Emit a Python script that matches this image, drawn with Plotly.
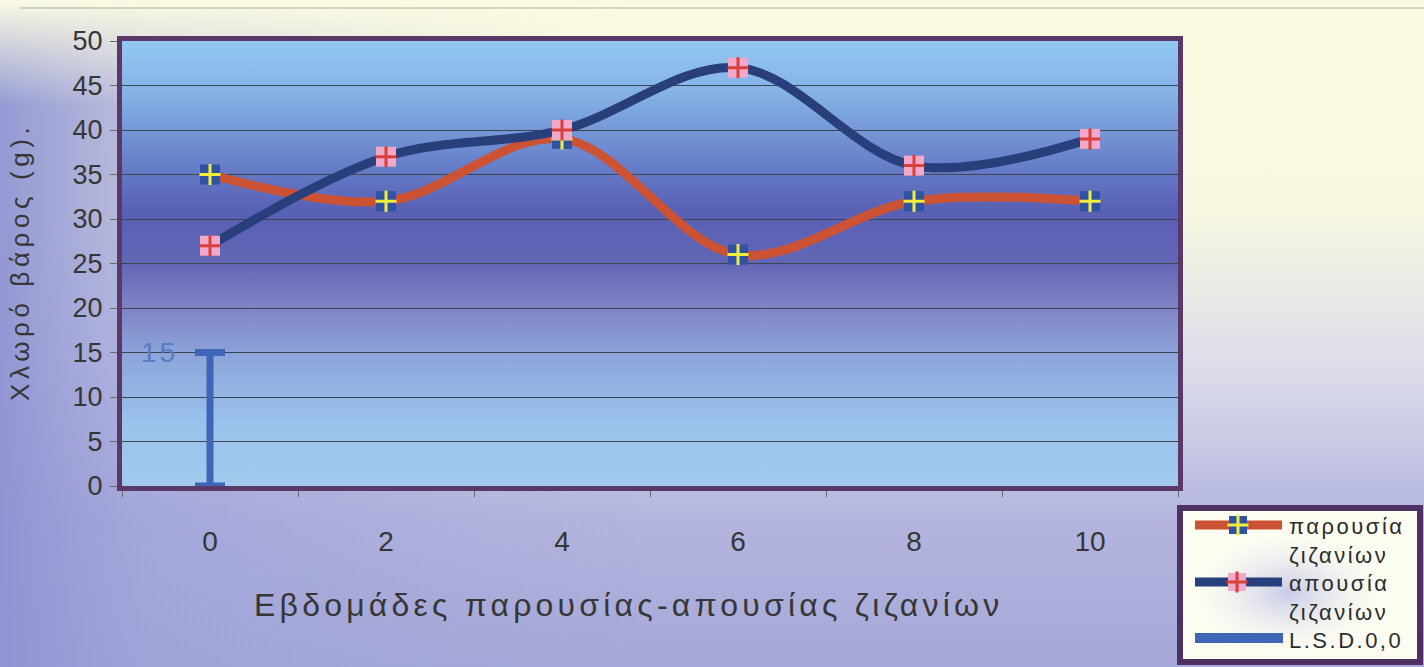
import base64
import plotly.graph_objects as go

# ---- data ----------------------------------------------------------------
weeks = ["0", "2", "4", "6", "8", "10"]
presence = [35, 32, 39, 26, 32, 32]      # παρουσία ζιζανίων
absence = [27, 37, 40, 47, 36, 39]       # απουσία ζιζανίων
lsd_value = 15                            # L.S.D. 0,05
y_ticks = list(range(0, 51, 5))

legend_lines = ["παρουσία", "ζιζανίων", "απουσία", "ζιζανίων", "L.S.D.0,0"]
series_names = ["παρουσία ζιζανίων", "απουσία ζιζανίων", "L.S.D.0,0"]
x_title = "Εβδομάδες παρουσίας-απουσίας ζιζανίων"
y_title = "Χλωρό βάρος (g)."

# ---- geometry ------------------------------------------------------------
W, H = 1424, 667
PLOT_L, PLOT_R, PLOT_T, PLOT_B = 122, 1178, 41, 486
LEG_L, LEG_R, LEG_T, LEG_B = 1180, 1420, 508, 662


def px(x):
    return x / W


def py(y):
    return 1 - y / H


def spaced(text, sp):
    return f'<span style="letter-spacing:{sp}px">{text}</span>'


FONT = "Liberation Sans, Arial, sans-serif"
TXT = "#363636"
ORANGE = "#cc5234"
NAVY = "#283f7c"
LSD_BLUE = "#3f66b6"
FRAME = "#5a3867"


def svg_uri(svg):
    return "data:image/svg+xml;base64," + base64.b64encode(svg.encode()).decode()


paper_svg = f"""<svg xmlns="http://www.w3.org/2000/svg" width="{W}" height="{H}" viewBox="0 0 {W} {H}" preserveAspectRatio="none">
<defs>
<linearGradient id="v" x1="0" y1="0" x2="0" y2="1">
<stop offset="0" stop-color="#fbfbe3"/>
<stop offset="0.32" stop-color="#f7f7e2"/>
<stop offset="0.55" stop-color="#dcdcea"/>
<stop offset="0.78" stop-color="#b3b5de"/>
<stop offset="1" stop-color="#a5a8d8"/>
</linearGradient>
<linearGradient id="h" x1="0" y1="0" x2="1" y2="0">
<stop offset="0" stop-color="#8d93d2" stop-opacity="0.95"/>
<stop offset="0.1" stop-color="#9ca0d8" stop-opacity="0.65"/>
<stop offset="0.45" stop-color="#a6a9d8" stop-opacity="0"/>
</linearGradient>
<linearGradient id="m" x1="0" y1="0" x2="0" y2="1">
<stop offset="0" stop-color="#000"/>
<stop offset="0.16" stop-color="#fff"/>
</linearGradient>
<mask id="mk"><rect width="{W}" height="{H}" fill="url(#m)"/></mask>
</defs>
<rect width="{W}" height="{H}" fill="url(#v)"/>
<rect width="{W}" height="{H}" fill="url(#h)" mask="url(#mk)"/>
</svg>"""

plot_svg = """<svg xmlns="http://www.w3.org/2000/svg" width="1056" height="445" viewBox="0 0 1056 445" preserveAspectRatio="none">
<defs>
<linearGradient id="g" x1="0" y1="0" x2="0" y2="1">
<stop offset="0" stop-color="#92c8f2"/>
<stop offset="0.12" stop-color="#84b2e6"/>
<stop offset="0.26" stop-color="#6a84cc"/>
<stop offset="0.38" stop-color="#5860b4"/>
<stop offset="0.5" stop-color="#6266b6"/>
<stop offset="0.6" stop-color="#8084c6"/>
<stop offset="0.72" stop-color="#8ea8dc"/>
<stop offset="0.86" stop-color="#9ac2ec"/>
<stop offset="1" stop-color="#a2caee"/>
</linearGradient>
</defs>
<rect width="1056" height="445" fill="url(#g)"/>
</svg>"""

legend_svg = """<svg xmlns="http://www.w3.org/2000/svg" width="240" height="154" viewBox="0 0 240 154" preserveAspectRatio="none">
<defs>
<radialGradient id="r" cx="0.45" cy="0.55" r="0.45">
<stop offset="0" stop-color="#b8bce6" stop-opacity="0.8"/>
<stop offset="1" stop-color="#fdfdf0" stop-opacity="0"/>
</radialGradient>
</defs>
<rect width="240" height="154" fill="#fdfdf2"/>
<rect width="240" height="154" fill="url(#r)"/>
</svg>"""

fig = go.Figure()


def add_series(values, line_color, sq_color, cross_color, name):
    fig.add_trace(go.Scatter(
        x=weeks, y=values, mode="lines", name=name, showlegend=False,
        line=dict(color=line_color, width=9, shape="spline", smoothing=1.0),
        hoverinfo="skip"))
    fig.add_trace(go.Scatter(
        x=weeks, y=values, mode="markers", showlegend=False, hoverinfo="skip",
        marker=dict(symbol="square", size=20, color=sq_color, line=dict(width=0))))
    fig.add_trace(go.Scatter(
        x=weeks, y=values, mode="markers", showlegend=False, name=name,
        marker=dict(symbol="cross-thin", size=15, color=cross_color,
                    line=dict(color=cross_color, width=3))))


add_series(presence, ORANGE, "#2f52a4", "#f2ee3c", series_names[0])
add_series(absence, NAVY, "#f2a8c8", "#d8403e", series_names[1])

# LSD bar drawn as an error bar from 0 up to the LSD value at week 0
fig.add_trace(go.Scatter(
    x=[weeks[0]], y=[0], mode="markers", name=series_names[2], showlegend=False,
    cliponaxis=False,
    marker=dict(symbol="circle", size=9, color=LSD_BLUE),
    error_y=dict(type="data", symmetric=False, array=[lsd_value], arrayminus=[0],
                 color=LSD_BLUE, thickness=7, width=15)))

# ---- legend glyphs on a small auxiliary axis pair ----------------------
leg_rows = [525, 582, 638]
fig.add_trace(go.Scatter(x=[1195, 1282], y=[leg_rows[0]] * 2, mode="lines", xaxis="x2", yaxis="y2",
                         showlegend=False, hoverinfo="skip", line=dict(color=ORANGE, width=9)))
fig.add_trace(go.Scatter(x=[1238], y=[leg_rows[0]], mode="markers", xaxis="x2", yaxis="y2",
                         showlegend=False, hoverinfo="skip",
                         marker=dict(symbol="square", size=18, color="#2f52a4")))
fig.add_trace(go.Scatter(x=[1238], y=[leg_rows[0]], mode="markers", xaxis="x2", yaxis="y2",
                         showlegend=False, hoverinfo="skip",
                         marker=dict(symbol="cross-thin", size=15, line=dict(color="#f2ee3c", width=3))))
fig.add_trace(go.Scatter(x=[1195, 1282], y=[leg_rows[1]] * 2, mode="lines", xaxis="x2", yaxis="y2",
                         showlegend=False, hoverinfo="skip", line=dict(color=NAVY, width=9)))
fig.add_trace(go.Scatter(x=[1237], y=[leg_rows[1]], mode="markers", xaxis="x2", yaxis="y2",
                         showlegend=False, hoverinfo="skip",
                         marker=dict(symbol="square", size=18, color="#f2a8c8")))
fig.add_trace(go.Scatter(x=[1237], y=[leg_rows[1]], mode="markers", xaxis="x2", yaxis="y2",
                         showlegend=False, hoverinfo="skip",
                         marker=dict(symbol="cross-thin", size=15, line=dict(color="#d8403e", width=3))))
fig.add_trace(go.Scatter(x=[1195, 1283], y=[leg_rows[2]] * 2, mode="lines", xaxis="x2", yaxis="y2",
                         showlegend=False, hoverinfo="skip", line=dict(color=LSD_BLUE, width=10)))

annotations = []
# legend text as one block so the five lines share one line pitch
annotations.append(dict(x=px(1287), y=py(512), xref="paper", yref="paper",
                        text="<br>".join(spaced(t, 2.5) for t in legend_lines),
                        showarrow=False, xanchor="left", yanchor="top", align="left",
                        font=dict(family=FONT, size=22, color="#2c2c2c")))

# axis titles
annotations.append(dict(x=px(628), y=py(605), xref="paper", yref="paper", text=spaced(x_title, 4.2),
                        showarrow=False, xanchor="center", yanchor="middle",
                        font=dict(family=FONT, size=32, color=TXT)))
annotations.append(dict(x=px(20), y=py(262), xref="paper", yref="paper", text=spaced(y_title, 4.6),
                        showarrow=False, textangle=-90, xanchor="center", yanchor="middle",
                        font=dict(family=FONT, size=26, color=TXT)))
# LSD value label
annotations.append(dict(x=weeks[0], y=lsd_value, xref="x", yref="y", text=spaced(str(lsd_value), 3),
                        showarrow=False, xanchor="right", yanchor="middle", xshift=-30,
                        font=dict(family=FONT, size=28, color="#5a7cc4")))

images = [
    dict(source=svg_uri(paper_svg), xref="paper", yref="paper", x=0, y=1, sizex=1, sizey=1,
         xanchor="left", yanchor="top", sizing="stretch", layer="below"),
    dict(source=svg_uri(plot_svg), xref="paper", yref="paper", x=px(PLOT_L), y=py(PLOT_T),
         sizex=px(PLOT_R) - px(PLOT_L), sizey=py(PLOT_T) - py(PLOT_B),
         xanchor="left", yanchor="top", sizing="stretch", layer="below"),
    dict(source=svg_uri(legend_svg), xref="paper", yref="paper", x=px(LEG_L), y=py(LEG_T),
         sizex=px(LEG_R) - px(LEG_L), sizey=py(LEG_T) - py(LEG_B),
         xanchor="left", yanchor="top", sizing="stretch", layer="below"),
]

shapes = [
    # legend frame
    dict(type="rect", xref="paper", yref="paper", x0=px(LEG_L), x1=px(LEG_R), y0=py(LEG_B), y1=py(LEG_T),
         line=dict(color="#4e3062", width=6), fillcolor="rgba(0,0,0,0)", layer="above"),
    # faint rule across the top of the page
    dict(type="line", xref="paper", yref="paper", x0=px(20), x1=1, y0=py(8), y1=py(8),
         line=dict(color="rgba(90,90,90,0.45)", width=1.2), layer="below"),
]

fig.update_layout(
    width=W, height=H,
    margin=dict(l=0, r=0, t=0, b=0, autoexpand=False),
    paper_bgcolor="#dcdcea",
    plot_bgcolor="rgba(0,0,0,0)",
    showlegend=False,
    font=dict(family=FONT, color=TXT),
    xaxis=dict(
        domain=[px(PLOT_L), px(PLOT_R)], type="category", categoryorder="array", categoryarray=weeks,
        range=[-0.5, len(weeks) - 0.5],
        automargin=False, showgrid=False, zeroline=False,
        showline=True, mirror=True, linecolor=FRAME, linewidth=5,
        ticks="outside", tickson="boundaries", ticklen=6, tickcolor="#6a6a6a", tickwidth=1,
        ticklabelstandoff=26, tickfont=dict(family=FONT, size=28, color=TXT),
    ),
    yaxis=dict(
        domain=[py(PLOT_B), py(PLOT_T)], range=[0, 50], tickvals=y_ticks,
        automargin=False, showgrid=True, gridcolor="#3c4450", gridwidth=1.4, zeroline=False,
        showline=True, mirror=True, linecolor=FRAME, linewidth=5,
        ticks="outside", ticklen=7, tickcolor="#6a6a6a", tickwidth=1,
        ticklabelstandoff=2, tickfont=dict(family=FONT, size=27, color=TXT),
    ),
    xaxis2=dict(domain=[px(LEG_L), px(LEG_R)], range=[LEG_L, LEG_R], visible=False,
                fixedrange=True, automargin=False),
    yaxis2=dict(domain=[py(LEG_B), py(LEG_T)], range=[LEG_B, LEG_T], visible=False,
                fixedrange=True, automargin=False),
    annotations=annotations,
    images=images,
    shapes=shapes,
)

fig.write_html("out.html")
